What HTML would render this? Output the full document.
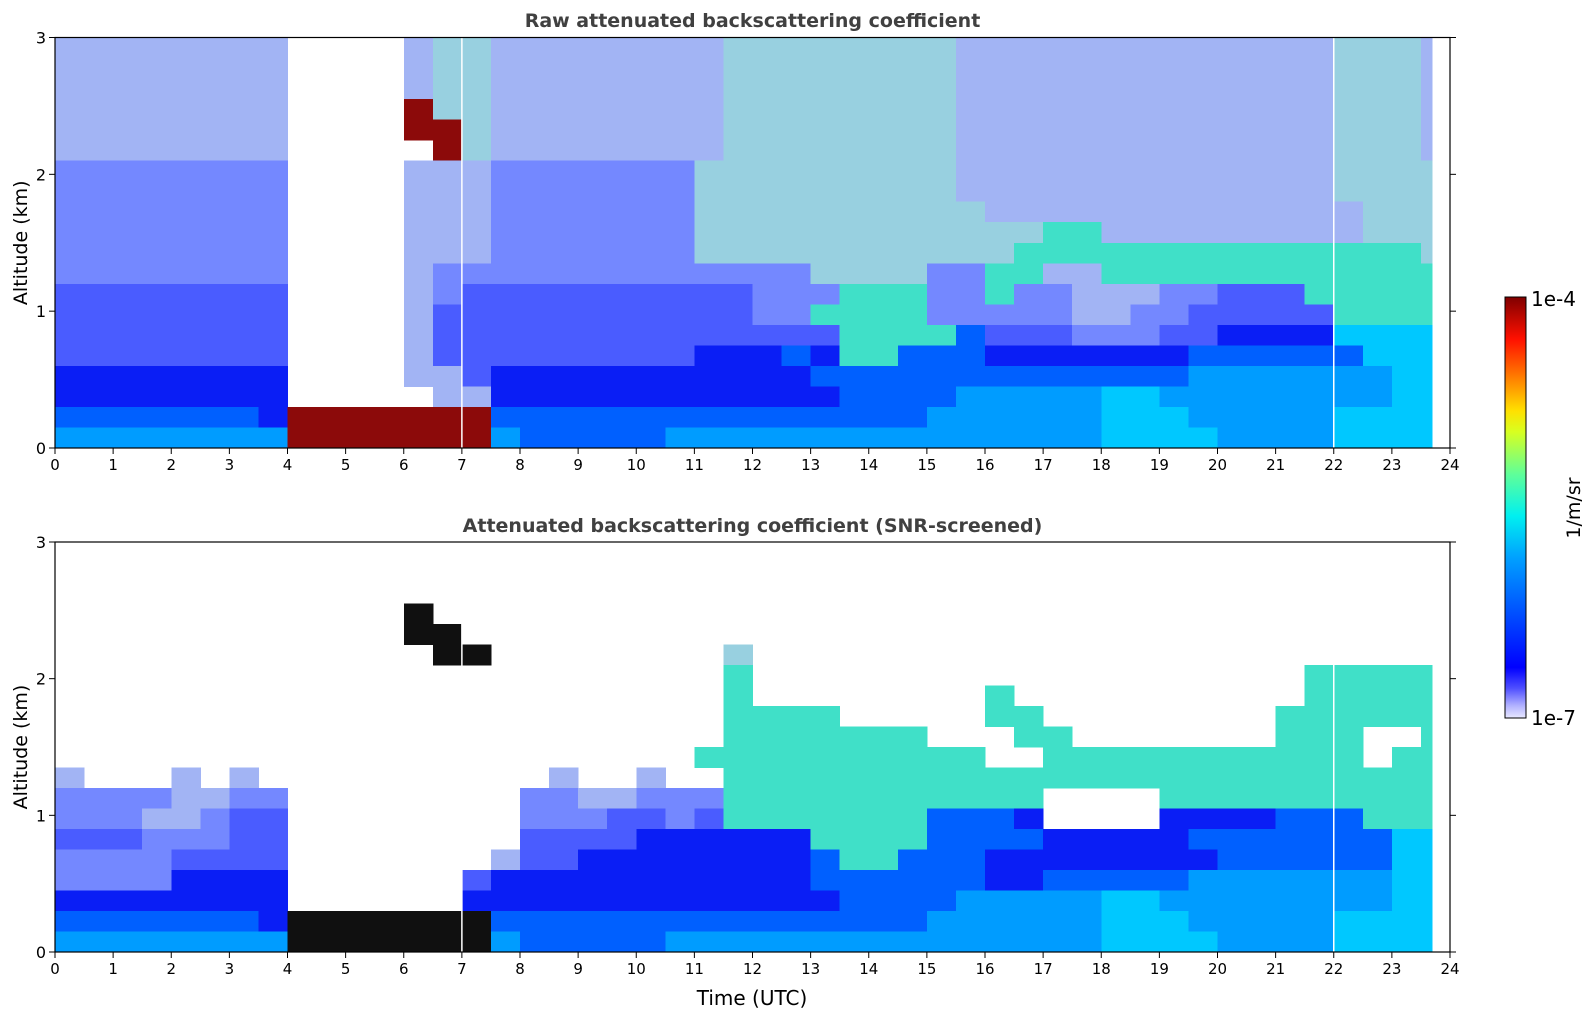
<!DOCTYPE html>
<html><head><meta charset="utf-8">
<style>
html,body{margin:0;padding:0;background:#fff;}
svg{display:block;font-family:"DejaVu Sans","Liberation Sans",sans-serif;}
</style></head>
<body>
<svg id="chart" width="1595" height="1020" viewBox="0 0 1595 1020" xmlns="http://www.w3.org/2000/svg">
<g id="panels"></g>
<g>
<defs>
<linearGradient id="jet" x1="0" y1="1" x2="0" y2="0">
<stop offset="0" stop-color="#e8e8ff"/><stop offset="0.03" stop-color="#b0b0ff"/><stop offset="0.07" stop-color="#5050ff"/>
<stop offset="0.12" stop-color="#0000ff"/><stop offset="0.25" stop-color="#0050ff"/><stop offset="0.38" stop-color="#00a0ff"/>
<stop offset="0.48" stop-color="#00f0f0"/><stop offset="0.58" stop-color="#60ff98"/><stop offset="0.68" stop-color="#d8ff20"/>
<stop offset="0.73" stop-color="#ffe000"/><stop offset="0.82" stop-color="#ff7000"/><stop offset="0.9" stop-color="#ff1000"/>
<stop offset="1" stop-color="#800000"/></linearGradient></defs>
<rect x="1505" y="297" width="21" height="421" fill="url(#jet)" stroke="#000" stroke-width="1"/>
<text x="1531" y="306" font-size="20">1e-4</text>
<text x="1531" y="725" font-size="20">1e-7</text>
<text transform="translate(1580,508) rotate(-90)" text-anchor="middle" font-size="19">1/m/sr</text>
</g>
<text x="752" y="1005" text-anchor="middle" font-size="20">Time (UTC)</text>
</svg>
<script>
const timeTicks=[0,1,2,3,4,5,6,7,8,9,10,11,12,13,14,15,16,17,18,19,20,21,22,23,24];
const altTicks=[0,1,2,3];
const nCols=48, colHours=0.5, rowKm=0.15, dataEndHour=23.7;
const palette={'0':'#ffffff','a':'#a2b4f4','b':'#7488ff','c':'#4a5cff','d':'#0a1ef5','e':'#0060ff','f':'#009cff','g':'#00c8ff','h':'#98d0e0','i':'#40e0c8','r':'#8c0a0a','k':'#101010'};
// rows from top (2.85-3.0 km) to bottom (0-0.15 km); 48 half-hour columns
const rawGrid=[
"aaaaaaaa"+"0000ahha"+"aaaaaaah"+"hhhhhhha"+"aaaaaaaa"+"aaaahhha",
"aaaaaaaa"+"0000ahha"+"aaaaaaah"+"hhhhhhha"+"aaaaaaaa"+"aaaahhha",
"aaaaaaaa"+"0000ahha"+"aaaaaaah"+"hhhhhhha"+"aaaaaaaa"+"aaaahhha",
"aaaaaaaa"+"0000rhha"+"aaaaaaah"+"hhhhhhha"+"aaaaaaaa"+"aaaahhha",
"aaaaaaaa"+"0000rrha"+"aaaaaaah"+"hhhhhhha"+"aaaaaaaa"+"aaaahhha",
"aaaaaaaa"+"00000rha"+"aaaaaaah"+"hhhhhhha"+"aaaaaaaa"+"aaaahhha",
"bbbbbbbb"+"0000aaab"+"bbbbbbhh"+"hhhhhhha"+"aaaaaaaa"+"aaaahhhh",
"bbbbbbbb"+"0000aaab"+"bbbbbbhh"+"hhhhhhha"+"aaaaaaaa"+"aaaahhhh",
"bbbbbbbb"+"0000aaab"+"bbbbbbhh"+"hhhhhhhh"+"aaaaaaaa"+"aaaaahhh",
"bbbbbbbb"+"0000aaab"+"bbbbbbhh"+"hhhhhhhh"+"hhiiaaaa"+"aaaaahhh",
"bbbbbbbb"+"0000aaab"+"bbbbbbhh"+"hhhhhhhh"+"hiiiiiii"+"iiiiiiih",
"bbbbbbbb"+"0000abbb"+"bbbbbbbb"+"bbhhhhbb"+"iiaaiiii"+"iiiiiiii",
"cccccccc"+"0000abcc"+"cccccccc"+"bbbiiibb"+"ibbaaabb"+"ccciiiii",
"cccccccc"+"0000accc"+"cccccccc"+"bbiiiibb"+"bbbaabbc"+"cccciiii",
"cccccccc"+"0000accc"+"cccccccc"+"ccciiiie"+"cccbbbcc"+"ddddgggg",
"cccccccc"+"0000accc"+"ccccccdd"+"dediieee"+"ddddddde"+"eeeeeggg",
"dddddddd"+"0000aacd"+"dddddddd"+"ddeeeeee"+"eeeeeeef"+"ffffffgg",
"dddddddd"+"00000aad"+"dddddddd"+"dddeeeef"+"ffffggff"+"ffffffgg",
"eeeeeeed"+"rrrrrrre"+"eeeeeeee"+"eeeeeeff"+"ffffgggf"+"ffffgggg",
"ffffffff"+"rrrrrrrf"+"eeeeefff"+"ffffffff"+"ffffgggg"+"ffffgggg"
];
const snrGrid=[
"00000000"+"00000000"+"00000000"+"00000000"+"00000000"+"00000000",
"00000000"+"00000000"+"00000000"+"00000000"+"00000000"+"00000000",
"00000000"+"00000000"+"00000000"+"00000000"+"00000000"+"00000000",
"00000000"+"0000k000"+"00000000"+"00000000"+"00000000"+"00000000",
"00000000"+"0000kk00"+"00000000"+"00000000"+"00000000"+"00000000",
"00000000"+"00000kk0"+"0000000h"+"00000000"+"00000000"+"00000000",
"00000000"+"00000000"+"0000000i"+"00000000"+"00000000"+"000iiiii",
"00000000"+"00000000"+"0000000i"+"00000000"+"i0000000"+"000iiiii",
"00000000"+"00000000"+"0000000i"+"iii00000"+"ii000000"+"00iiiiii",
"00000000"+"00000000"+"0000000i"+"iiiiii00"+"0ii00000"+"00iii00i",
"00000000"+"00000000"+"000000ii"+"iiiiiiii"+"00iiiiii"+"iiiii0ii",
"a000a0a0"+"00000000"+"0a00a00i"+"iiiiiiii"+"iiiiiiii"+"iiiiiiii",
"bbbbaabb"+"00000000"+"bbaabbbi"+"iiiiiiii"+"ii0000ii"+"iiiiiiii",
"bbbaabcc"+"00000000"+"bbbccbci"+"iiiiiiee"+"ed0000dd"+"ddeeeiii",
"cccbbbcc"+"00000000"+"ccccdddd"+"ddiiiiee"+"eeddddde"+"eeeeeegg",
"bbbbcccc"+"0000000a"+"ccdddddd"+"ddeiieee"+"dddddddd"+"eeeeeegg",
"bbbbdddd"+"000000cd"+"dddddddd"+"ddeeeeee"+"ddeeeeef"+"ffffffgg",
"dddddddd"+"000000dd"+"dddddddd"+"dddeeeef"+"ffffggff"+"ffffffgg",
"eeeeeeed"+"kkkkkkke"+"eeeeeeee"+"eeeeeeff"+"ffffgggf"+"ffffgggg",
"ffffffff"+"kkkkkkkf"+"eeeeefff"+"ffffffff"+"ffffgggg"+"ffffgggg"
];
const gapTimes=[7,22];
const NS='http://www.w3.org/2000/svg';
const X0=55,X1=1450;
function xScale(t){return X0+(X1-X0)*t/24;}
function mk(tag,attrs,parent){const e=document.createElementNS(NS,tag);for(const k in attrs)e.setAttribute(k,attrs[k]);parent.appendChild(e);return e;}
const root=document.getElementById('panels');
const panels=[{grid:rawGrid,top:37.5,bot:448,title:'Raw attenuated backscattering coefficient',ty:27,name:'raw-panel'},
{grid:snrGrid,top:542,bot:952,title:'Attenuated backscattering coefficient (SNR-screened)',ty:532,name:'snr-panel'}];
panels.forEach(p=>{
 const g=mk('g',{},root);
 
 
 const yScale=km=>p.bot-(p.bot-p.top)*km/3;
 const nRows=p.grid.length;
 const cells=mk('g',{'shape-rendering':'crispEdges'},g);
 
 
 const xEnd=xScale(dataEndHour);
 p.grid.forEach((row,ri)=>{
  const kmLo=(nRows-1-ri)*rowKm, kmHi=kmLo+rowKm;
  for(let c=0;c<nCols;c++){
   const v=row[c]; if(v==='0')continue;
   const x=xScale(c*colHours); let x2=xScale((c+1)*colHours)+0.5;
   if(x2>xEnd)x2=xEnd;
   const r=mk('rect',{x:x,y:yScale(kmHi),width:x2-x,height:yScale(kmLo)-yScale(kmHi)+0.5,fill:palette[v]},cells);
   
   
  }
 });
 gapTimes.forEach(t=>{
  const l=mk('line',{x1:xScale(t),x2:xScale(t),y1:p.top,y2:p.bot,stroke:'#fff','stroke-width':1.5},g);
  
  
 });
 const frame=mk('rect',{x:X0,y:p.top,width:X1-X0,height:p.bot-p.top,fill:'none',stroke:'#000','stroke-width':1.2},g);
 
 
 timeTicks.forEach(t=>{
  const x=xScale(t);
  const tk=mk('line',{x1:x,x2:x,y1:p.bot,y2:p.bot+6,stroke:'#000'},g);
  
  
  const tl=mk('text',{x:x,y:p.bot+22,'text-anchor':'middle','font-size':15},g);
  tl.textContent=t;
  
  
 });
 altTicks.forEach(a=>{
  const y=yScale(a);
  const tk=mk('line',{x1:X0-6,x2:X0,y1:y,y2:y,stroke:'#000'},g);
  
  
  const tr=mk('line',{x1:X1,x2:X1+6,y1:y,y2:y,stroke:'#000'},g);
  
  
  const tl=mk('text',{x:X0-9,y:y+6,'text-anchor':'end','font-size':16},g);
  tl.textContent=a;
  
  
 });
 const yt=mk('text',{transform:`translate(27,${(p.top+p.bot)/2}) rotate(-90)`,'text-anchor':'middle','font-size':19},g);
 yt.textContent='Altitude (km)';
 
 
 const ti=mk('text',{x:(X0+X1)/2,y:p.ty,'text-anchor':'middle','font-size':19,'font-weight':'bold',fill:'#404040'},g);
 ti.textContent=p.title;
 
 
});
</script>
</body></html>
